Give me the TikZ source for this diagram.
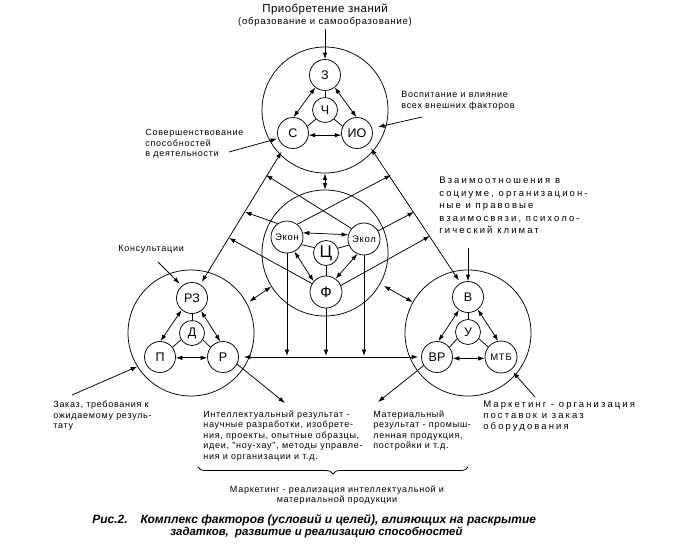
\documentclass[tikz,border=0pt]{standalone}
\usepackage{fontspec}
\setmainfont{Liberation Sans}
\newfontfamily\lblfont[LetterSpace=8]{Liberation Sans}
\newfontfamily\lblwfont[LetterSpace=22]{Liberation Sans}
\newfontfamily\ttlfont[LetterSpace=4]{Liberation Sans}
\newfontfamily\subfont[LetterSpace=8]{Liberation Sans}
\usetikzlibrary{arrows.meta,decorations.pathreplacing}
\begin{document}
\begin{tikzpicture}[x=1pt,y=-1pt,line width=0.75pt,
  big/.style={circle,draw,minimum size=126pt,inner sep=0pt},
  sm/.style={circle,draw,minimum size=31pt,inner sep=0pt,font=\fontsize{12.5}{12.5}\selectfont},
  smt/.style={circle,draw,minimum size=32pt,inner sep=0pt,font=\lblfont\fontsize{9.5}{9.5}\selectfont},
  mid/.style={circle,draw,minimum size=25pt,inner sep=0pt,font=\fontsize{12.5}{12.5}\selectfont},
  arr/.style={-{Latex[length=6.5pt,width=4.5pt]}},
  darr/.style={{Latex[length=6.5pt,width=4.5pt]}-{Latex[length=6.5pt,width=4.5pt]}},
  lbl/.style={font=\lblfont\fontsize{9}{10.5}\selectfont,align=left,inner sep=0pt,anchor=north west},
  lblw/.style={font=\lblwfont\fontsize{9.5}{12.5}\selectfont,align=left,inner sep=0pt,anchor=north west},
  captxt/.style={font=\bfseries\itshape\fontsize{12}{13}\selectfont,inner sep=0pt,anchor=west}]
\useasboundingbox (0,0) rectangle (694,555);
% big circles
\node[big] (T) at (325,110) {};
\node[big] (C) at (325,253) {};
\node[big] (L) at (191,333) {};
\node[big] (R) at (468,333) {};
% top group
\node[sm] (z) at (325,75) {З};
\node[mid] (ch) at (325,110) {Ч};
\node[sm] (s) at (293,133) {С};
\node[sm] (io) at (357,133) {ИО};
\draw[darr] (z.232) -- (s.88);
\draw[darr] (z.308) -- (io.92);
\draw[darr] (s.-8) -- (io.188);
\draw (ch) -- (z);
\draw (ch.225) -- (s.25);
\draw (ch.-45) -- (io.155);
% center group
\node[smt] (ekon) at (287,237) {Экон};
\node[smt] (ekol) at (364,239) {Экол};
\node[mid,font=\fontsize{17}{17}\selectfont] (c) at (326,253) {Ц};
\node[sm,minimum size=32pt,font=\fontsize{15}{15}\selectfont] (f) at (326,292) {Ф};
\draw[darr] (ekon.15) -- (ekol.165);
\draw (c.155) -- (ekon.-28);
\draw (c.22) -- (ekol.202);
\draw (c) -- (f);
\draw[darr] (ekon.-63) -- (f.139);
\draw[darr] (ekol.246) -- (f.54);
% left group
\node[sm] (rz) at (192,298) {РЗ};
\node[mid] (d) at (192,333) {Д};
\node[sm] (p) at (160,357) {П};
\node[sm] (r) at (223,357) {Р};
\draw[darr] (rz.229) -- (p.88);
\draw[darr] (rz.-55) -- (r.100);
\draw[darr] (p.-3) -- (r.183);
\draw (d) -- (rz);
\draw (d.212) -- (p.38);
\draw (d.-32) -- (r.142);
% right group
\node[sm] (v) at (468,297) {В};
\node[mid] (u) at (468,332) {У};
\node[sm] (vr) at (437,357) {ВР};
\node[smt] (mtb) at (501,357) {МТБ};
\draw[darr] (v.235) -- (vr.85);
\draw[darr] (v.-52) -- (mtb.100);
\draw[darr] (vr.-5) -- (mtb.185);
\draw (u) -- (v);
\draw (u.212) -- (vr.38);
\draw (u.-32) -- (mtb.142);
% between groups
\draw[darr] (T) -- (C);
\draw[darr,shorten <=3pt] (L.28) -- (C.212);
\draw[darr,shorten <=4pt] (C) -- (R);
\draw[darr,shorten <=6pt,shorten >=3pt] (s) -- (rz);
\draw[darr,shorten <=5pt,shorten >=3pt] (io.-45) -- (v.118);
\coordinate (a1) at (245,212);
\coordinate (a2) at (229,238);
\coordinate (a3) at (266,175);
\coordinate (a4) at (391,175);
\coordinate (a5) at (414,212);
\coordinate (a6) at (430,236);
\draw[arr] (ekon.125) -- (a1);
\draw[arr] (f.149) -- (a2);
\draw[arr] (ekol.140) -- (a3);
\draw[arr] (ekon.51) -- (a4);
\draw[arr] (ekol.30) -- (a5);
\draw[arr] (f.24) -- (a6);
\coordinate (hl) at (0,356);
\draw[arr] (ekon.south) -- (ekon.south |- hl);
\draw[arr] (f.south) -- (f.south |- hl);
\draw[arr] (ekol.south) -- (ekol.south |- hl);
\draw[darr,shorten <=5pt,shorten >=3pt] (r.east) -- (vr.west);
% titles and labels
\node[font=\ttlfont\fontsize{11.5}{12}\selectfont,inner sep=0pt] (t1) at (325,9) {Приобретение знаний};
\node[font=\subfont\fontsize{9.5}{10}\selectfont,inner sep=0pt] (t2) at (325,22) {(образование и самообразование)};
\draw[arr,shorten <=2pt] (t2.south) -- (z.north);
\node[lbl] (sov) at (145,129) {Совершенствование\\способностей\\в деятельности};
\coordinate (sovA) at (229,152);
\draw[arr,shorten >=1pt] (sovA) -- (s.200);
\node[lbl] (vosp) at (401,91) {Воспитание и влияние\\всех внешних факторов};
\coordinate (vospA) at (422,117);
\draw[arr,shorten >=6pt] (vospA) -- (io.17);
\node[lblw] (vz) at (439,177) {Взаимоотношения в\\социуме, организацион-\\ные и правовые\\взаимосвязи, психоло-\\гический климат};
\coordinate (vzA) at (468,248);
\draw[arr] (vzA) -- (v.north);
\node[lbl] (kons) at (118,245) {Консультации};
\coordinate (konsA) at (158,262);
\draw[arr,shorten >=3pt] (konsA) -- (rz.130);
\node[lbl] (zak) at (53,401) {Заказ, требования к\\ожидаемому резуль-\\тату};
\coordinate (zakA) at (72,395);
\draw[arr] (zakA) -- (L.212);
\node[lblw,font=\lblwfont\fontsize{9.5}{11}\selectfont] (mko) at (483,401) {Маркетинг - организация\\поставок и заказ\\оборудования};
\coordinate (mkoA) at (535,397);
\draw[arr,shorten >=3pt] (mkoA) -- (mtb.-52);
\node[lbl] (int) at (203,410) {Интеллектуальный результат -\\научные разработки, изобрете-\\ния, проекты, опытные образцы,\\идеи, "ноу-хау", методы управле-\\ния и организации и т.д.};
\coordinate (intA) at (285,403);
\draw[arr] (r.-27) -- (intA);
\node[lbl] (mat) at (373,410) {Материальный\\результат - промыш-\\ленная продукция,\\постройки и т.д.};
\coordinate (matA) at (378,402);
\draw[arr] (vr.213) -- (matA);
\draw[decorate,decoration={brace,mirror,amplitude=7pt}] (198,467) -- (468,467);
\node[lbl,anchor=north,align=center] (mkr) at (337,485) {Маркетинг - реализация интеллектуальной и\\материальной продукции};
\node[captxt] (cap1) at (92,520) {Рис.2.\hspace{13pt}Комплекс факторов (условий и целей), влияющих на раскрытие};
\node[captxt,font=\bfseries\itshape\fontsize{11.4}{13}\selectfont] (cap2) at (170,532) {задатков,\ \ развитие и реализацию способностей};
\end{tikzpicture}
\end{document}
